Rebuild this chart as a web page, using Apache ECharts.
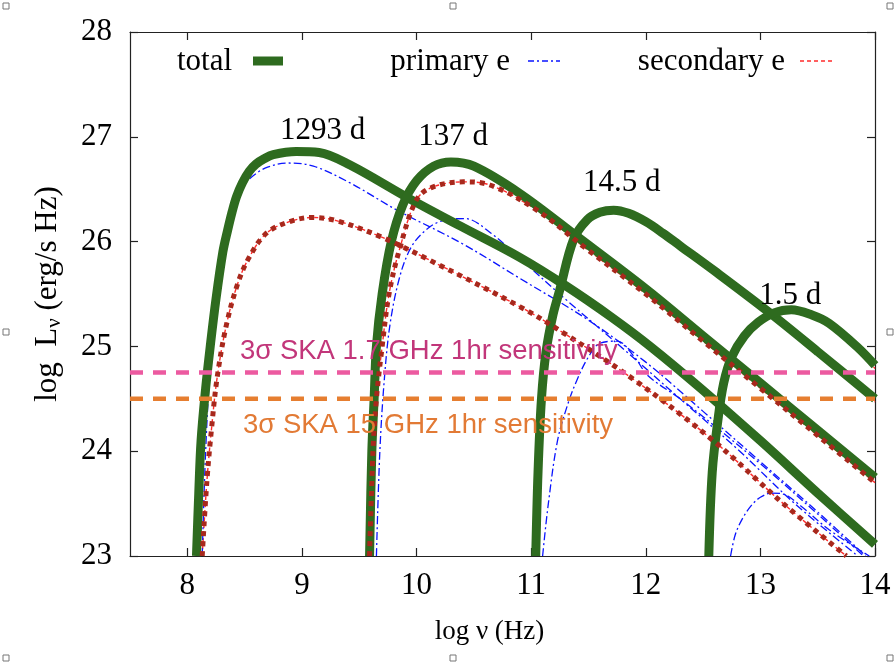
<!DOCTYPE html>
<html>
<head>
<meta charset="utf-8">
<title>radio light curves</title>
<script src="https://cdn.jsdelivr.net/npm/echarts@6.0.0/dist/echarts.min.js"></script>
<style>
  html, body { margin: 0; padding: 0; background: #fff; }
  #main { width: 896px; height: 666px; }
</style>
</head>
<body>
<div id="main"></div>
<script>
// data: log nu (Hz), log L_nu (erg/s Hz)
var epochs = ['1293 d', '137 d', '14.5 d', '1.5 d'];
var epochLabelPos = [[9.18, 27.06], [10.32, 27.0], [11.79, 26.56], [13.26, 25.48]];

var total1293 = [[8.08,23.0],[8.10,23.6],[8.12,24.1],[8.16,24.6],[8.20,25.0],[8.25,25.45],[8.31,25.9],[8.35,26.1],[8.39,26.28],[8.43,26.43],[8.48,26.56],[8.54,26.67],[8.60,26.74],[8.67,26.79],[8.75,26.83],[8.95,26.86],[9.15,26.85],[9.42,26.73],[9.92,26.42],[10.38,26.15],[10.9,25.85],[11.3,25.58],[11.7,25.28],[12.04,25.0],[12.48,24.6],[13.0,24.1],[13.5,23.6],[14.0,23.11]];
var total137 = [[9.59,23.0],[9.61,24.0],[9.63,24.5],[9.65,25.0],[9.70,25.5],[9.78,26.0],[9.88,26.35],[10.0,26.58],[10.15,26.72],[10.3,26.76],[10.5,26.72],[10.9,26.46],[11.4,26.05],[12.0,25.55],[12.5,25.1],[13.0,24.65],[13.5,24.2],[14.0,23.75]];
var total14 = [[11.04,23.0],[11.06,23.8],[11.09,24.5],[11.13,24.95],[11.19,25.3],[11.25,25.54],[11.37,26.02],[11.49,26.21],[11.6,26.28],[11.72,26.3],[11.85,26.27],[12.0,26.19],[12.15,26.08],[12.3,25.96],[12.6,25.72],[13.07,25.33],[13.5,24.95],[14.0,24.5]];
var total1p5 = [[12.55,23.0],[12.58,23.8],[12.63,24.3],[12.68,24.65],[12.75,24.9],[12.86,25.1],[12.98,25.23],[13.12,25.32],[13.27,25.35],[13.45,25.3],[13.6,25.22],[13.85,24.99],[14.0,24.82]];

var primary1293 = [[8.13,23.0],[8.16,24.0],[8.20,24.8],[8.26,25.5],[8.33,26.0],[8.39,26.27],[8.45,26.45],[8.5,26.55],[8.6,26.65],[8.7,26.71],[8.87,26.75],[9.1,26.72],[9.42,26.56],[9.83,26.3],[10.4,25.98],[10.9,25.65],[11.5,25.25],[12.0,24.85],[12.5,24.38],[13.0,23.9],[13.5,23.42],[13.92,23.0]];
var primary137 = [[9.65,23.0],[9.68,24.0],[9.72,24.7],[9.77,25.22],[9.85,25.65],[9.94,25.92],[10.05,26.08],[10.2,26.19],[10.42,26.22],[10.65,26.08],[10.9,25.84],[11.3,25.45],[11.8,24.98],[12.3,24.5],[12.8,24.02],[13.3,23.5],[13.85,23.0]];
var primary14 = [[11.1,23.0],[11.15,23.5],[11.23,24.1],[11.32,24.45],[11.4,24.68],[11.5,24.9],[11.6,25.03],[11.75,25.05],[11.9,24.9],[12.02,24.72],[12.3,24.5],[12.59,24.25],[13.0,23.88],[13.5,23.4],[13.9,23.0]];
var primary1p5 = [[12.74,23.0],[12.78,23.2],[12.84,23.35],[12.92,23.48],[13.0,23.56],[13.1,23.6],[13.2,23.59],[13.35,23.48],[13.6,23.25],[13.95,23.0]];

var secondary1293 = [[8.13,23.0],[8.17,23.7],[8.21,24.2],[8.26,24.7],[8.34,25.2],[8.44,25.6],[8.54,25.85],[8.69,26.08],[8.89,26.19],[9.09,26.23],[9.3,26.2],[9.68,26.05],[10.12,25.82],[10.9,25.38],[11.28,25.13],[11.9,24.68],[12.59,24.1],[13.2,23.5],[13.75,23.0]];
var secondary137 = [[9.59,23.0],[9.62,24.0],[9.65,24.5],[9.70,25.0],[9.76,25.5],[9.85,25.92],[10.0,26.4],[10.14,26.52],[10.41,26.57],[10.64,26.54],[11.05,26.3],[11.46,25.95],[12.0,25.5],[12.5,25.05],[13.0,24.6],[13.5,24.15],[14.0,23.7]];
var secondary14 = [[11.05,23.0],[11.07,23.8],[11.1,24.5],[11.14,24.95],[11.21,25.3],[11.26,25.52],[11.38,26.0],[11.5,26.18],[11.6,26.25],[11.72,26.27],[11.85,26.24],[12.0,26.16],[12.15,26.05],[12.3,25.93],[12.6,25.69],[13.07,25.3],[13.5,24.92],[14.0,24.47]];
var secondary1p5 = [[12.56,23.0],[12.59,23.8],[12.64,24.3],[12.69,24.63],[12.76,24.88],[12.87,25.07],[12.99,25.2],[13.12,25.29],[13.27,25.32],[13.45,25.27],[13.6,25.19],[13.85,24.96],[14.0,24.79]];

var skaLevels = [24.75, 24.5];
var skaTexts = ['3\u03c3 SKA 1.7 GHz 1hr sensitivity', '3\u03c3 SKA 15 GHz 1hr sensitivity'];
var xTicks = [8, 9, 10, 11, 12, 13, 14];

var totals = [total1293, total137, total14, total1p5];
var primaries = [primary1293, primary137, primary14, primary1p5];
var secondaries = [secondary1293, secondary137, secondary14, secondary1p5];

var serif = 'Liberation Serif';
var sans = 'Liberation Sans';
var green = '#2e6b1f', blue = '#0a14ff', red = '#ff2b2b', darkRed = '#a8281c';
var pink = '#ec5aa0', orange = '#e67e30';
var SMOOTH = 0.35;

var chart = echarts.init(document.getElementById('main'));

var series = [];
// thin red secondary under everything
secondaries.forEach(function (d) {
  series.push({
    type: 'line', name: 'secondary e', data: d, showSymbol: false, smooth: SMOOTH,
    silent: true, z: 2,
    lineStyle: { color: red, width: 1.4, type: [4, 3] }
  });
});
primaries.forEach(function (d) {
  series.push({
    type: 'line', name: 'primary e', data: d, showSymbol: false, smooth: SMOOTH,
    silent: true, z: 3,
    lineStyle: { color: blue, width: 1.3, type: [8, 3, 2, 3] }
  });
});
totals.forEach(function (d) {
  series.push({
    type: 'line', name: 'total', data: d, showSymbol: false, smooth: SMOOTH,
    silent: true, z: 4,
    lineStyle: { color: green, width: 9, cap: 'butt' }
  });
});
// thick dotted secondary, only visible for the two late epochs
[secondary1293, secondary137].forEach(function (d) {
  series.push({
    type: 'line', name: 'secondary dots', data: d, showSymbol: false, smooth: SMOOTH,
    silent: true, z: 5,
    lineStyle: { color: darkRed, width: 5, type: [5, 5], cap: 'butt' }
  });
});
// SKA sensitivity levels
skaLevels.forEach(function (v, i) {
  series.push({
    type: 'line', data: [[7.5, v], [14, v]], showSymbol: false, silent: true, z: 6,
    lineStyle: { color: i === 0 ? pink : orange, width: 4.5, type: [13, 10], cap: 'butt' }
  });
});
// epoch labels
series.push({
  type: 'scatter', symbolSize: 0, itemStyle: { color: '#000' }, silent: true, z: 7,
  data: epochs.map(function (e, i) { return { value: epochLabelPos[i], name: e }; }),
  label: {
    show: true, position: 'inside', formatter: '{b}',
    fontFamily: serif, fontSize: 31, color: '#000', opacity: 1
  }
});

var axisCommon = {
  axisLine: { show: true, onZero: false, lineStyle: { color: '#222', width: 1.2 } },
  axisTick: { show: true, inside: true, length: 8, lineStyle: { color: '#222', width: 1.2 } },
  splitLine: { show: false }
};

var option = {
  animation: false,
  backgroundColor: '#fff',
  grid: { left: 130, right: 21, top: 32, bottom: 110 },
  xAxis: [
    Object.assign({}, axisCommon, {
      type: 'value', min: 7.5, max: 14, position: 'bottom',
      axisTick: Object.assign({}, axisCommon.axisTick, { customValues: xTicks }),
      axisLabel: { customValues: xTicks, margin: 14, fontFamily: serif, fontSize: 31, color: '#000' },
      name: 'log \u03bd (Hz)', nameLocation: 'middle', nameGap: 62,
      nameTextStyle: { fontFamily: serif, fontSize: 27, color: '#000', padding: [0, 26, 0, 0] }
    }),
    Object.assign({}, axisCommon, {
      type: 'value', min: 7.5, max: 14, position: 'top',
      axisTick: Object.assign({}, axisCommon.axisTick, { customValues: xTicks }),
      axisLabel: { show: false }
    })
  ],
  yAxis: [
    Object.assign({}, axisCommon, {
      type: 'value', min: 23, max: 28, interval: 1, position: 'left',
      axisLabel: { margin: 18, fontFamily: serif, fontSize: 31, color: '#000' },
      name: 'log  L{sub|\u03bd} (erg/s Hz)', nameLocation: 'middle', nameGap: 65, nameRotate: 90,
      nameTextStyle: {
        fontFamily: serif, fontSize: 31, color: '#000',
        rich: { sub: { fontFamily: serif, fontSize: 21, color: '#000', verticalAlign: 'bottom', padding: [14, 0, 0, 0] } }
      }
    }),
    Object.assign({}, axisCommon, {
      type: 'value', min: 23, max: 28, interval: 1, position: 'right',
      axisLabel: { show: false }
    })
  ],
  graphic: [
    // legend
    { type: 'text', x: 232, y: 62, style: { text: 'total', fontFamily: serif, fontSize: 31, fill: '#000', align: 'right', verticalAlign: 'middle' } },
    { type: 'line', shape: { x1: 253, y1: 61, x2: 283, y2: 61 }, style: { stroke: green, lineWidth: 9 } },
    { type: 'text', x: 510, y: 62, style: { text: 'primary e', fontFamily: serif, fontSize: 31, fill: '#000', align: 'right', verticalAlign: 'middle' } },
    { type: 'line', shape: { x1: 528, y1: 61, x2: 560, y2: 61 }, style: { stroke: blue, lineWidth: 1.3, lineDash: [6, 3, 2, 3] } },
    { type: 'text', x: 785, y: 62, style: { text: 'secondary e', fontFamily: serif, fontSize: 31, fill: '#000', align: 'right', verticalAlign: 'middle' } },
    { type: 'line', shape: { x1: 800, y1: 61, x2: 832, y2: 61 }, style: { stroke: red, lineWidth: 1.4, lineDash: [4, 3] } },
    // SKA annotations
    { type: 'text', x: 240, y: 351, z: 10, style: { text: skaTexts[0], fontFamily: sans, fontSize: 27.5, fill: '#c2367a', verticalAlign: 'middle' } },
    { type: 'text', x: 243, y: 425, z: 10, style: { text: skaTexts[1], fontFamily: sans, fontSize: 27.5, fill: '#e27a35', verticalAlign: 'middle' } },
    // window resize handles
    { type: 'rect', shape: { x: 3, y: 3, width: 6, height: 6 }, style: { fill: '#fff', stroke: '#777', lineWidth: 1 } },
    { type: 'rect', shape: { x: 450, y: 3, width: 6, height: 6 }, style: { fill: '#fff', stroke: '#777', lineWidth: 1 } },
    { type: 'rect', shape: { x: 887, y: 3, width: 6, height: 6 }, style: { fill: '#fff', stroke: '#777', lineWidth: 1 } },
    { type: 'rect', shape: { x: 3, y: 329, width: 6, height: 6 }, style: { fill: '#fff', stroke: '#777', lineWidth: 1 } },
    { type: 'rect', shape: { x: 887, y: 329, width: 6, height: 6 }, style: { fill: '#fff', stroke: '#777', lineWidth: 1 } },
    { type: 'rect', shape: { x: 3, y: 655, width: 6, height: 6 }, style: { fill: '#fff', stroke: '#777', lineWidth: 1 } },
    { type: 'rect', shape: { x: 450, y: 655, width: 6, height: 6 }, style: { fill: '#fff', stroke: '#777', lineWidth: 1 } },
    { type: 'rect', shape: { x: 887, y: 655, width: 6, height: 6 }, style: { fill: '#fff', stroke: '#777', lineWidth: 1 } }
  ],
  series: series
};

chart.setOption(option);
</script>
</body>
</html>
